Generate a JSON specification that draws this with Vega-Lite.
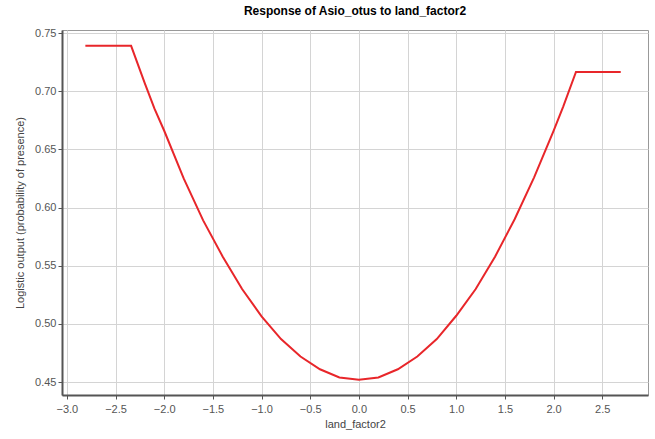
{
  "$schema": "https://vega.github.io/schema/vega-lite/v6.json",
  "autosize": "none",
  "width": 586,
  "height": 365,
  "padding": {"left": 62, "top": 30, "right": 7, "bottom": 44},
  "title": {"text": "Response of Asio_otus to land_factor2", "font": "Liberation Sans", "fontSize": 12, "fontWeight": "bold", "color": "#000", "offset": 9, "anchor": "middle"},
  "config": {
    "view": {"stroke": "#999", "strokeWidth": 1},
    "axis": {"labelFont": "Liberation Sans", "titleFont": "Liberation Sans", "labelFontSize": 11, "titleFontSize": 11, "labelColor": "#555", "titleColor": "#444", "titleFontWeight": "normal", "gridColor": "#d4d4d4", "gridWidth": 1, "tickColor": "#555", "domainColor": "#555", "domainWidth": 2, "tickSize": 4}
  },
  "data": {"values": [
    {"x": -2.81, "y": 0.739},
    {"x": -2.34, "y": 0.739},
    {"x": -2.2, "y": 0.707},
    {"x": -2.1, "y": 0.685},
    {"x": -2.0, "y": 0.666},
    {"x": -1.8, "y": 0.625},
    {"x": -1.6, "y": 0.589},
    {"x": -1.4, "y": 0.558},
    {"x": -1.2, "y": 0.530},
    {"x": -1.0, "y": 0.5065},
    {"x": -0.8, "y": 0.487},
    {"x": -0.6, "y": 0.472},
    {"x": -0.4, "y": 0.461},
    {"x": -0.2, "y": 0.454},
    {"x": 0.0, "y": 0.452},
    {"x": 0.2, "y": 0.454},
    {"x": 0.4, "y": 0.461},
    {"x": 0.6, "y": 0.472},
    {"x": 0.8, "y": 0.487},
    {"x": 1.0, "y": 0.507},
    {"x": 1.2, "y": 0.530},
    {"x": 1.4, "y": 0.558},
    {"x": 1.6, "y": 0.590},
    {"x": 1.8, "y": 0.626},
    {"x": 2.0, "y": 0.666},
    {"x": 2.1, "y": 0.687},
    {"x": 2.23, "y": 0.7166},
    {"x": 2.69, "y": 0.7166}
  ]},
  "layer": [
    {
      "mark": {"type": "line", "color": "#e8262a", "strokeWidth": 2, "clip": true},
      "encoding": {
        "x": {"field": "x", "type": "quantitative", "scale": {"domain": [-3.05, 2.97], "nice": false, "zero": false},
          "axis": {"title": "land_factor2", "values": [-3.0, -2.5, -2.0, -1.5, -1.0, -0.5, 0.0, 0.5, 1.0, 1.5, 2.0, 2.5], "format": ".1f", "titleY": 23, "labelPadding": 4, "titlePadding": 2}},
        "y": {"field": "y", "type": "quantitative", "scale": {"domain": [0.4389, 0.7526], "nice": false, "zero": false},
          "axis": {"title": "Logistic output (probability of presence)", "values": [0.45, 0.5, 0.55, 0.6, 0.65, 0.7, 0.75], "format": ".2f", "titleX": -37, "labelPadding": 2}}
      }
    }
  ]
}
